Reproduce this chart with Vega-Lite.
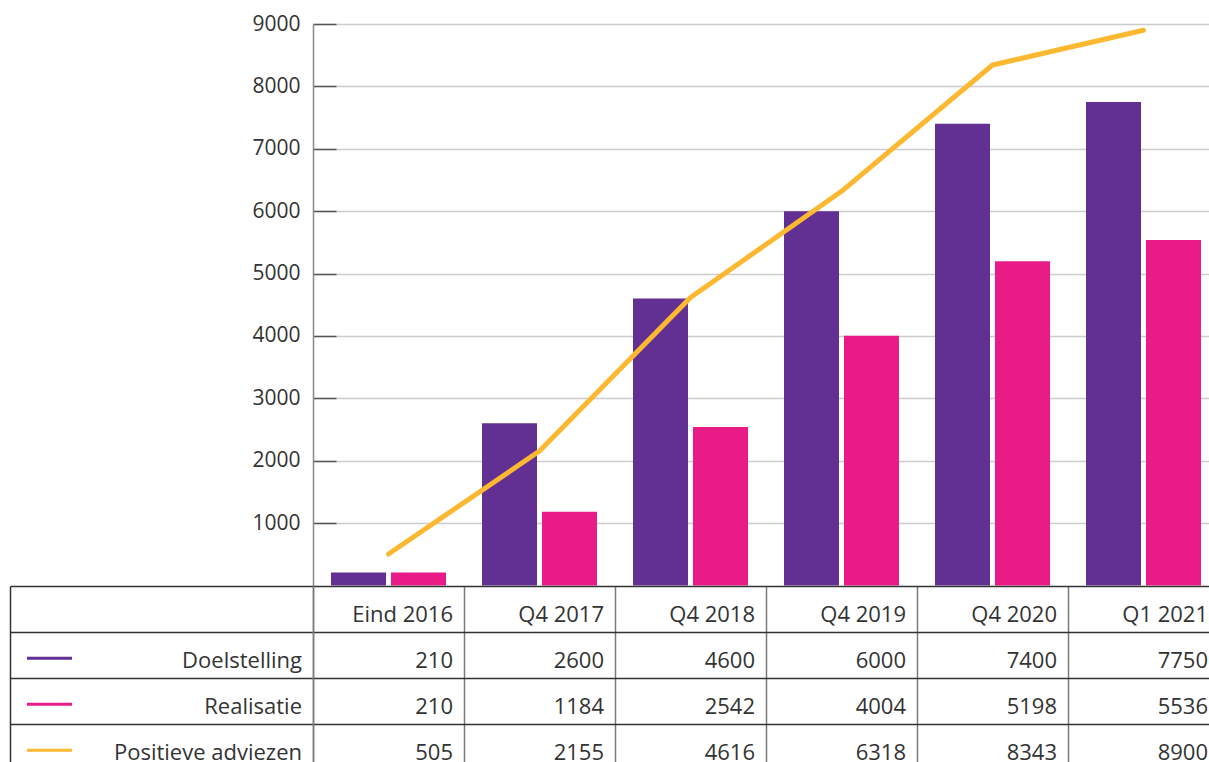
{
  "$schema": "https://vega.github.io/schema/vega-lite/v6.json",
  "background": "white",
  "padding": {"left": 10, "top": 13, "right": 0, "bottom": 0},
  "columns": 2,
  "spacing": 0,
  "bounds": "flush",
  "config": {
    "view": {"stroke": null},
    "font": "Open Sans",
    "text": {"font": "Open Sans"}
  },
  "datasets": {
    "tabel": [
      {"periode": "Eind 2016", "reeks": "Doelstelling", "waarde": 210},
      {"periode": "Q4 2017", "reeks": "Doelstelling", "waarde": 2600},
      {"periode": "Q4 2018", "reeks": "Doelstelling", "waarde": 4600},
      {"periode": "Q4 2019", "reeks": "Doelstelling", "waarde": 6000},
      {"periode": "Q4 2020", "reeks": "Doelstelling", "waarde": 7400},
      {"periode": "Q1 2021", "reeks": "Doelstelling", "waarde": 7750},
      {"periode": "Eind 2016", "reeks": "Realisatie", "waarde": 210},
      {"periode": "Q4 2017", "reeks": "Realisatie", "waarde": 1184},
      {"periode": "Q4 2018", "reeks": "Realisatie", "waarde": 2542},
      {"periode": "Q4 2019", "reeks": "Realisatie", "waarde": 4004},
      {"periode": "Q4 2020", "reeks": "Realisatie", "waarde": 5198},
      {"periode": "Q1 2021", "reeks": "Realisatie", "waarde": 5536},
      {"periode": "Eind 2016", "reeks": "Positieve adviezen", "waarde": 505},
      {"periode": "Q4 2017", "reeks": "Positieve adviezen", "waarde": 2155},
      {"periode": "Q4 2018", "reeks": "Positieve adviezen", "waarde": 4616},
      {"periode": "Q4 2019", "reeks": "Positieve adviezen", "waarde": 6318},
      {"periode": "Q4 2020", "reeks": "Positieve adviezen", "waarde": 8343},
      {"periode": "Q1 2021", "reeks": "Positieve adviezen", "waarde": 8900}
    ]
  },
  "concat": [
    {
      "width": 303,
      "height": 561.5,
      "data": {"values": [{}]},
      "mark": {"type": "text"},
      "encoding": {"text": {"value": ""}}
    },
    {
      "width": 896,
      "height": 561.5,
      "data": {"name": "tabel"},
      "encoding": {
        "x": {
          "field": "periode",
          "type": "nominal",
          "sort": ["Eind 2016", "Q4 2017", "Q4 2018", "Q4 2019", "Q4 2020", "Q1 2021"],
          "scale": {"range": [0, 906], "paddingInner": 0, "paddingOuter": 0},
          "axis": null
        }
      },
      "layer": [
        {
          "transform": [{"filter": "datum.reeks !== 'Positieve adviezen'"}],
          "mark": {"type": "bar"},
          "encoding": {
            "xOffset": {
              "field": "reeks",
              "type": "nominal",
              "sort": ["Doelstelling", "Realisatie"],
              "scale": {"paddingInner": 0.0833, "paddingOuter": 0.3}
            },
            "y": {
              "field": "waarde",
              "type": "quantitative",
              "scale": {"domain": [0, 9000], "nice": false},
              "axis": {
                "title": null,
                "values": [1000, 2000, 3000, 4000, 5000, 6000, 7000, 8000, 9000],
                "format": "d",
                "labelFont": "Open Sans",
                "labelFontSize": 21,
                "labelColor": "#333333",
                "labelPadding": 36,
                "tickSize": -23,
                "tickColor": "#555555",
                "tickWidth": 1.5,
                "domainColor": "#888888",
                "domainWidth": 1.5,
                "grid": true,
                "gridColor": "#cccccc",
                "gridWidth": 1.5
              }
            },
            "color": {
              "field": "reeks",
              "type": "nominal",
              "scale": {
                "domain": ["Doelstelling", "Realisatie", "Positieve adviezen"],
                "range": ["#623092", "#E91C87", "#FBB830"]
              },
              "legend": null
            }
          }
        },
        {
          "transform": [{"filter": "datum.reeks === 'Positieve adviezen'"}],
          "mark": {"type": "line", "strokeWidth": 5, "strokeCap": "round", "strokeJoin": "round", "color": "#FBB830"},
          "encoding": {
            "y": {"field": "waarde", "type": "quantitative"}
          }
        }
      ]
    },
    {
      "width": 303,
      "height": 177,
      "data": {"name": "tabel"},
      "transform": [{"aggregate": [], "groupby": ["reeks"]}],
      "encoding": {
        "x": {
          "datum": "legenda",
          "type": "nominal",
          "scale": {"domain": ["legenda"], "paddingInner": 0, "paddingOuter": 0},
          "axis": null
        },
        "y": {
          "field": "reeks",
          "type": "nominal",
          "scale": {
            "domain": ["Periode", "Doelstelling", "Realisatie", "Positieve adviezen"],
            "range": [0, 184],
            "paddingInner": 0,
            "paddingOuter": 0
          },
          "axis": {
            "title": null,
            "labels": false,
            "ticks": false,
            "domain": true,
            "domainColor": "#333333",
            "domainWidth": 1.5,
            "grid": true,
            "gridColor": "#333333",
            "gridWidth": 1.5,
            "tickBand": "extent"
          }
        }
      },
      "layer": [
        {
          "mark": {"type": "text", "align": "right", "baseline": "alphabetic", "dx": 140.5, "dy": 13, "font": "Open Sans", "fontSize": 22, "color": "#333333", "clip": true},
          "encoding": {
            "text": {"field": "reeks"}
          }
        },
        {
          "mark": {"type": "point", "shape": "M-1,0L1,0", "size": 2025, "strokeWidth": 3, "filled": false, "opacity": 1, "xOffset": -112, "yOffset": 3.2},
          "encoding": {
            "color": {
              "field": "reeks",
              "type": "nominal",
              "scale": {
                "domain": ["Doelstelling", "Realisatie", "Positieve adviezen"],
                "range": ["#623092", "#E91C87", "#FBB830"]
              },
              "legend": null
            }
          }
        }
      ]
    },
    {
      "width": 896,
      "height": 177,
      "data": {"name": "tabel"},
      "encoding": {
        "x": {
          "field": "periode",
          "type": "nominal",
          "sort": ["Eind 2016", "Q4 2017", "Q4 2018", "Q4 2019", "Q4 2020", "Q1 2021"],
          "scale": {"range": [0, 906], "paddingInner": 0, "paddingOuter": 0},
          "axis": {
            "orient": "top",
            "title": null,
            "labels": false,
            "ticks": false,
            "domain": false,
            "grid": true,
            "gridColor": "#7a7a7a",
            "gridWidth": 1.5,
            "tickBand": "extent"
          }
        }
      },
      "layer": [
        {
          "mark": {"type": "text", "align": "right", "baseline": "alphabetic", "dx": 64.5, "dy": 13, "font": "Open Sans", "fontSize": 22, "color": "#333333", "clip": true},
          "encoding": {
            "y": {
              "field": "reeks",
              "type": "nominal",
              "scale": {
                "domain": ["Periode", "Doelstelling", "Realisatie", "Positieve adviezen"],
                "range": [0, 184],
                "paddingInner": 0,
                "paddingOuter": 0
              },
              "axis": {
                "title": null,
                "labels": false,
                "ticks": false,
                "domain": true,
                "domainColor": "#7a7a7a",
                "domainWidth": 1.5,
                "grid": true,
                "gridColor": "#333333",
                "gridWidth": 1.5,
                "tickBand": "extent"
              }
            },
            "text": {"field": "waarde", "type": "nominal"}
          }
        },
        {
          "transform": [{"aggregate": [], "groupby": ["periode"]}],
          "mark": {"type": "text", "align": "right", "baseline": "alphabetic", "dx": 64.5, "dy": 13, "font": "Open Sans", "fontSize": 22, "color": "#333333", "clip": true},
          "encoding": {
            "y": {"datum": "Periode", "type": "nominal"},
            "text": {"field": "periode", "type": "nominal"}
          }
        }
      ]
    }
  ]
}
